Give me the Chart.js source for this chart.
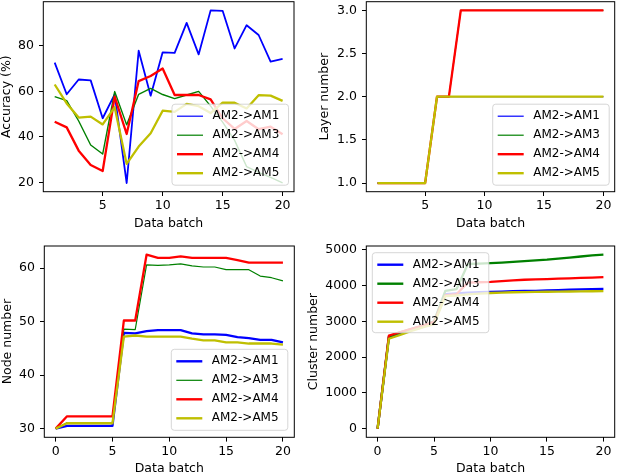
<!DOCTYPE html>
<html><head><meta charset="utf-8">
<script src="https://cdn.jsdelivr.net/npm/chart.js@4.4.1/dist/chart.umd.min.js"></script>
<style>
html,body{margin:0;padding:0;width:618px;height:474px;overflow:hidden;background:#fff;}
canvas{position:absolute;}
</style></head><body>
<canvas id="c1" width="300" height="237" style="left:0px;top:0px"></canvas>
<canvas id="c2" width="318" height="237" style="left:300px;top:0px"></canvas>
<canvas id="c3" width="300" height="240" style="left:0px;top:237px"></canvas>
<canvas id="c4" width="318" height="240" style="left:300px;top:237px"></canvas>
<script>
// ---------- data ----------
const seriesLabels = ['AM2->AM1', 'AM2->AM3', 'AM2->AM4', 'AM2->AM5'];
const batchesTop = [1,2,3,4,5,6,7,8,9,10,11,12,13,14,15,16,17,18,19,20];
const batchesBottom = [0,1,2,3,4,5,6,7,8,9,10,11,12,13,14,15,16,17,18,19,20];

const accAM1 = [72.6,58.7,65.2,64.8,48.2,58.7,19.8,77.8,58.1,77.1,76.9,90.0,76.2,95.5,95.3,78.8,89.0,84.7,73.0,74.2];
const accAM3 = [57.7,55.9,47.0,36.5,32.5,59.9,45.3,58.7,61.3,58.6,56.8,58.4,60.0,53.5,46.5,38.5,27.0,24.5,22.3,19.9];
const accAM4 = [46.7,44.2,34.0,27.7,25.1,57.7,41.3,64.5,66.7,70.0,58.4,58.4,58.4,56.5,48.2,43.5,47.0,43.4,44.5,41.2];
const accAM5 = [63.0,54.7,48.5,48.9,45.5,53.0,28.2,35.8,41.6,51.5,51.0,54.5,53.5,50.5,55.0,55.0,52.5,58.3,58.1,55.8];

const layerAM1 = [1,1,1,1,1,2,2,2,2,2,2,2,2,2,2,2,2,2,2,2];
const layerAM3 = [1,1,1,1,1,2,2,3,3,3,3,3,3,3,3,3,3,3,3,3];
const layerAM4 = [1,1,1,1,1,2,2,3,3,3,3,3,3,3,3,3,3,3,3,3];
const layerAM5 = [1,1,1,1,1,2,2,2,2,2,2,2,2,2,2,2,2,2,2,2];

const nodeAM1 = [30,30.5,30.5,30.5,30.5,30.5,47.9,47.8,48.2,48.4,48.4,48.4,47.8,47.6,47.6,47.5,47.1,46.9,46.6,46.6,46.1];
const nodeAM3 = [30,31.1,31.1,31.1,31.1,31.1,48.6,48.5,60.6,60.5,60.6,60.8,60.4,60.2,60.2,59.7,59.7,59.7,58.5,58.2,57.6];
const nodeAM4 = [30,32.3,32.3,32.3,32.3,32.3,50.2,50.2,62.5,61.9,61.9,62.2,61.9,61.9,61.9,61.9,61.5,61.0,61.0,61.0,61.0];
const nodeAM5 = [30,31.0,31.0,31.0,31.0,31.0,47.2,47.4,47.2,47.2,47.2,47.2,46.8,46.5,46.5,46.1,46.1,45.9,45.9,45.9,45.7];

const clusterAM1 = [0,2550,2670,2770,2860,2960,3760,3780,3800,3810,3820,3830,3840,3845,3850,3860,3870,3880,3890,3900,3905];
const clusterAM3 = [0,2570,2690,2790,2880,3000,3850,3900,4600,4610,4625,4640,4660,4680,4700,4720,4750,4780,4810,4840,4860];
const clusterAM4 = [0,2600,2700,2790,2880,2980,3720,3760,4080,4090,4100,4120,4140,4160,4170,4180,4190,4200,4210,4220,4235];
const clusterAM5 = [0,2510,2620,2730,2830,2920,3700,3720,3750,3770,3790,3800,3810,3815,3820,3825,3830,3832,3835,3838,3840];

const xTicksTop = [5,10,15,20];
const xTicksBottom = [0,5,10,15,20];
const accTicks = [20,40,60,80];
const layerTicks = [1.0,1.5,2.0,2.5,3.0];
const nodeTicks = [30,40,50,60];
const clusterTicks = [0,1000,2000,3000,4000,5000];

// ---------- styling ----------
const COLORS = ['#0000ff', '#008000', '#ff0000', '#bfbf00'];
const FONT = 'DejaVu Sans';

const framePlugin = {
  id: 'frame',
  afterDatasetsDraw(chart, args, o) {
    const ctx = chart.ctx;
    const a = chart.chartArea;
    ctx.save();
    ctx.strokeStyle = '#000';
    ctx.lineWidth = 1;
    ctx.strokeRect(a.left, a.top, a.right - a.left, a.bottom - a.top);
    // legend box
    const w = o.w, h = o.h;
    let bx, by;
    if (o.corner === 'ul') { bx = a.left + o.dx; by = a.top + o.dy; }
    else { bx = a.right - o.dx - w; by = a.bottom - o.dy - h; }
    const r = 3;
    ctx.beginPath();
    ctx.moveTo(bx + r, by);
    ctx.lineTo(bx + w - r, by);
    ctx.arcTo(bx + w, by, bx + w, by + r, r);
    ctx.lineTo(bx + w, by + h - r);
    ctx.arcTo(bx + w, by + h, bx + w - r, by + h, r);
    ctx.lineTo(bx + r, by + h);
    ctx.arcTo(bx, by + h, bx, by + h - r, r);
    ctx.lineTo(bx, by + r);
    ctx.arcTo(bx, by, bx + r, by, r);
    ctx.closePath();
    ctx.fillStyle = 'rgba(255,255,255,0.8)';
    ctx.fill();
    ctx.strokeStyle = 'rgba(204,204,204,0.8)';
    ctx.lineWidth = 1;
    ctx.stroke();
    ctx.font = '12px "' + FONT + '"';
    ctx.textBaseline = 'middle';
    ctx.textAlign = 'left';
    chart.data.datasets.forEach((ds, i) => {
      const yy = by + 12 + i * 19;
      ctx.beginPath();
      ctx.strokeStyle = ds.borderColor;
      ctx.lineWidth = ds.legendWidth;
      ctx.moveTo(bx + 5, yy);
      ctx.lineTo(bx + 31, yy);
      ctx.stroke();
      ctx.fillStyle = '#000';
      ctx.fillText(ds.label, bx + 40.5, yy);
    });
    ctx.restore();
  }
};

function makeDatasets(xs, arrays, widths, legendWidths) {
  return arrays.map((vals, i) => ({
    label: seriesLabels[i],
    data: xs.map((x, j) => ({x: x, y: vals[j]})),
    borderColor: COLORS[i],
    backgroundColor: COLORS[i],
    borderWidth: widths[i],
    legendWidth: legendWidths[i],
    pointRadius: 0,
    tension: 0,
    fill: false,
    borderJoinStyle: 'round',
    order: 4 - i
  }));
}

function makeChart(id, cfg) {
  const tickFont = {family: FONT, size: 12.5, lineHeight: 1.2};
  new Chart(document.getElementById(id), {
    type: 'line',
    data: {datasets: makeDatasets(cfg.xs, cfg.series, cfg.widths, cfg.legendWidths)},
    options: {
      responsive: false,
      animation: false,
      devicePixelRatio: 1,
      layout: {padding: cfg.pad},
      plugins: {
        legend: {display: false},
        tooltip: {enabled: false},
        frame: cfg.legend
      },
      scales: {
        x: {
          type: 'linear',
          min: cfg.xmin, max: cfg.xmax,
          afterBuildTicks: s => { s.ticks = cfg.xticks.map(v => ({value: v})); },
          afterFit: s => { s.height = cfg.xh; s.paddingLeft = 0; s.paddingRight = 0; },
          grid: {drawOnChartArea: false, drawTicks: true, tickLength: 4.3, color: '#000', lineWidth: 1},
          border: {display: false},
          ticks: {color: '#000', font: tickFont, padding: 2.3, maxRotation: 0, autoSkip: false,
                  callback: v => String(v)},
          title: {display: true, text: 'Data batch', color: '#000', font: tickFont,
                  padding: {top: 0, bottom: cfg.xtp}}
        },
        y: {
          type: 'linear',
          min: cfg.ymin, max: cfg.ymax,
          afterBuildTicks: s => { s.ticks = cfg.yticks.map(v => ({value: v})); },
          afterFit: s => { s.width = cfg.yw; s.paddingTop = 0; s.paddingBottom = 0; },
          grid: {drawOnChartArea: false, drawTicks: true, tickLength: 4.3, color: '#000', lineWidth: 1},
          border: {display: false},
          ticks: {color: '#000', font: tickFont, padding: 5, autoSkip: false,
                  callback: cfg.yfmt},
          title: {display: true, text: cfg.ytitle, color: '#000', font: tickFont,
                  padding: {top: cfg.ytp, bottom: 0}}
        }
      }
    },
    plugins: [framePlugin]
  });
}

makeChart('c1', {
  xs: batchesTop, series: [accAM1, accAM3, accAM4, accAM5],
  widths: [1.8, 1.4, 2.3, 2.3], legendWidths: [1.2, 1.2, 2.4, 2.4],
  xmin: 0.05, xmax: 20.95, xticks: xTicksTop,
  ymin: 16.0, ymax: 99.3, yticks: accTicks, yfmt: v => String(v),
  ytitle: 'Accuracy (%)', ytp: -1, xtp: 5.5,
  yw: 43.3, xh: 45.3, pad: {left: 0, top: 1.7, right: 6, bottom: 0},
  legend: {corner: 'lr', dx: 5.5, dy: 6.5, w: 116.5, h: 81}
});

makeChart('c2', {
  xs: batchesTop, series: [layerAM1, layerAM3, layerAM4, layerAM5],
  widths: [1.2, 1.2, 2.3, 2.3], legendWidths: [1.2, 1.2, 2.4, 2.4],
  xmin: 0.05, xmax: 20.95, xticks: xTicksTop,
  ymin: 0.9, ymax: 3.1, yticks: layerTicks, yfmt: v => Number(v).toFixed(1),
  ytitle: 'Layer number', ytp: 17, xtp: 5.5,
  yw: 66.3, xh: 45.3, pad: {left: 0, top: 1.7, right: 3.3, bottom: 0},
  legend: {corner: 'lr', dx: 5.5, dy: 6.5, w: 116.5, h: 81}
});

makeChart('c3', {
  xs: batchesBottom, series: [nodeAM1, nodeAM3, nodeAM4, nodeAM5],
  widths: [2.3, 1.2, 2.3, 2.3], legendWidths: [2.4, 1.2, 2.4, 2.4],
  xmin: -1, xmax: 21, xticks: xTicksBottom,
  ymin: 28.375, ymax: 64.125, yticks: nodeTicks, yfmt: v => String(v),
  ytitle: 'Node number', ytp: 0, xtp: 1,
  yw: 44.3, xh: 39.7, pad: {left: 0, top: 9, right: 5.7, bottom: 0},
  legend: {corner: 'lr', dx: 6.5, dy: 7, w: 116.5, h: 81}
});

makeChart('c4', {
  xs: batchesBottom, series: [clusterAM1, clusterAM3, clusterAM4, clusterAM5],
  widths: [2.3, 2.3, 2.3, 2.3], legendWidths: [2.4, 2.4, 2.4, 2.4],
  xmin: -1, xmax: 21, xticks: xTicksBottom,
  ymin: -243, ymax: 5103, yticks: clusterTicks, yfmt: v => String(v),
  ytitle: 'Cluster number', ytp: 6.2, xtp: 1,
  yw: 66.3, xh: 39.7, pad: {left: 0, top: 9, right: 3.3, bottom: 0},
  legend: {corner: 'ul', dx: 6, dy: 6.7, w: 116.5, h: 80}
});
</script>
</body></html>
